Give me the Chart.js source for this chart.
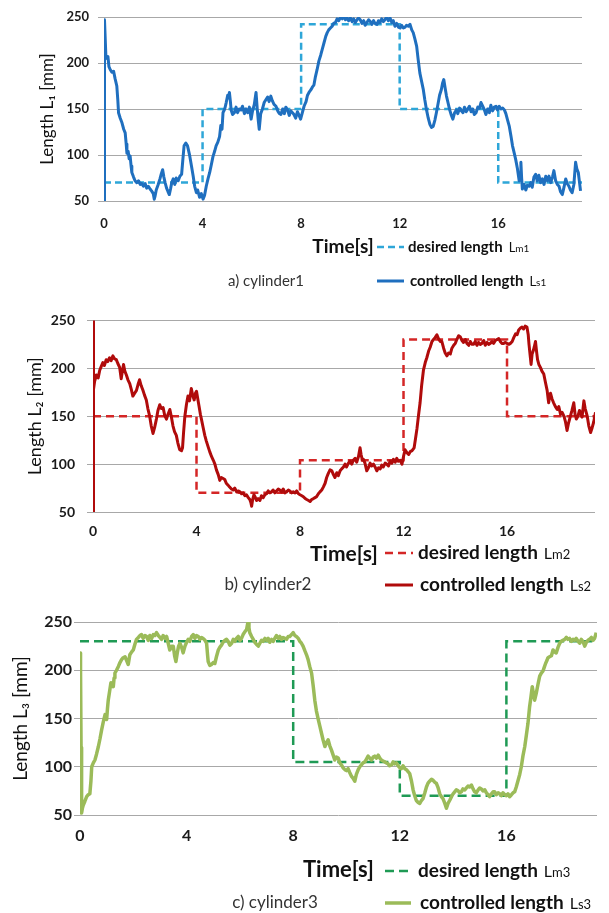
<!DOCTYPE html>
<html><head><meta charset="utf-8">
<script src="https://cdn.jsdelivr.net/npm/chart.js"></script>
<style>
html,body{margin:0;padding:0;background:#fff;}
body{width:609px;height:913px;position:relative;overflow:hidden;}
canvas{position:absolute;left:0;}
</style></head><body>
<canvas id="ca" width="609" height="300" style="top:0px"></canvas>
<canvas id="cb" width="609" height="300" style="top:300px"></canvas>
<canvas id="cc" width="609" height="313" style="top:600px"></canvas>
<script>
// ---- data ----
const xTicks = [0, 4, 8, 12, 16];
const yTicks = [50, 100, 150, 200, 250];
const stepTimes = [0, 4, 8, 12, 16, 19.4];
const desiredA = [70, 150, 242, 150, 70, 70];
const desiredB = [150, 70, 104, 230, 150, 150];
const desiredC = [230, 230, 105, 70, 230, 230];
const legendTexts = ['desired length', 'controlled length'];
const captions = ['a) cylinder1', 'b) cylinder2', 'c) cylinder3'];
const yTitles = ['Length L\u2081 [mm]', 'Length L\u2082 [mm]', 'Length L\u2083 [mm]'];
const desiredSyms = [['L','m1'], ['L','m2'], ['L','m3']];
const ctrlSyms = [['L','s1'], ['L','s2'], ['L','s3']];

const ctrlA = [[0,50],[0.02,247],[0.08,205],[0.16,207],[0.2,196],[0.25,193],[0.32,190],[0.39,191],[0.45,183],[0.52,175],[0.56,160],[0.59,146],[0.66,140],[0.73,135],[0.8,128],[0.86,124],[0.9,112],[0.93,102],[0.98,104],[1.02,96],[1.06,99],[1.1,88],[1.13,81],[1.2,76],[1.26,72],[1.33,70],[1.4,72],[1.47,68],[1.53,69],[1.6,66],[1.67,69],[1.73,64],[1.8,66],[1.87,63],[1.93,61],[2.0,58],[2.04,52],[2.07,55],[2.12,62],[2.2,68],[2.27,74],[2.33,80],[2.38,84],[2.43,76],[2.48,70],[2.54,64],[2.6,60],[2.65,57],[2.7,63],[2.75,70],[2.81,74],[2.87,68],[2.93,75],[3.01,72],[3.08,77],[3.15,79],[3.2,95],[3.25,110],[3.32,113],[3.39,110],[3.44,104],[3.48,99],[3.55,88],[3.62,77],[3.68,66],[3.75,59],[3.8,62],[3.88,54],[3.95,58],[4.02,52],[4.08,56],[4.15,66],[4.22,74],[4.29,81],[4.36,90],[4.42,98],[4.49,104],[4.55,110],[4.62,114],[4.69,120],[4.74,132],[4.79,128],[4.83,146],[4.9,150],[4.96,157],[5.02,165],[5.06,162],[5.09,168],[5.13,158],[5.16,149],[5.22,144],[5.29,146],[5.36,152],[5.42,146],[5.49,150],[5.56,149],[5.62,153],[5.7,145],[5.76,150],[5.83,146],[5.9,152],[5.97,139],[6.03,148],[6.1,155],[6.17,168],[6.22,150],[6.26,138],[6.3,128],[6.36,145],[6.43,150],[6.5,157],[6.57,160],[6.64,163],[6.7,158],[6.77,164],[6.83,159],[6.9,155],[6.98,153],[7.05,148],[7.12,145],[7.18,144],[7.25,150],[7.32,145],[7.38,152],[7.45,149],[7.52,143],[7.58,148],[7.65,146],[7.71,144],[7.78,140],[7.85,147],[7.92,143],[7.98,139],[8.05,146],[8.12,153],[8.2,158],[8.26,165],[8.32,168],[8.4,171],[8.46,174],[8.52,176],[8.58,185],[8.65,193],[8.72,202],[8.8,209],[8.86,215],[8.93,222],[9.0,229],[9.06,233],[9.12,236],[9.19,238],[9.26,240],[9.32,243],[9.39,244],[9.46,248],[9.53,246],[9.6,250],[9.67,248],[9.74,250],[9.8,247],[9.87,249],[9.93,246],[10.0,249],[10.07,245],[10.13,248],[10.2,244],[10.27,247],[10.33,249],[10.4,247],[10.47,243],[10.54,246],[10.6,241],[10.67,244],[10.74,247],[10.81,245],[10.87,242],[10.94,246],[11.0,243],[11.08,242],[11.14,246],[11.2,244],[11.27,248],[11.34,245],[11.4,247],[11.47,250],[11.54,246],[11.61,249],[11.68,244],[11.74,246],[11.81,240],[11.88,243],[11.95,239],[12.02,238],[12.08,241],[12.15,238],[12.22,239],[12.28,241],[12.35,240],[12.42,242],[12.49,236],[12.55,233],[12.62,226],[12.69,218],[12.75,204],[12.82,189],[12.89,180],[12.96,171],[13.02,160],[13.09,149],[13.16,140],[13.23,133],[13.29,130],[13.36,131],[13.43,138],[13.49,146],[13.56,156],[13.62,165],[13.69,171],[13.74,178],[13.79,182],[13.85,172],[13.9,164],[13.97,156],[14.03,149],[14.1,143],[14.16,139],[14.23,146],[14.3,149],[14.36,145],[14.43,151],[14.5,148],[14.57,146],[14.63,152],[14.7,147],[14.77,150],[14.83,153],[14.9,147],[14.97,150],[15.03,144],[15.1,146],[15.17,152],[15.24,151],[15.3,157],[15.37,153],[15.44,149],[15.5,144],[15.57,150],[15.64,146],[15.7,154],[15.77,148],[15.84,152],[15.91,153],[15.97,149],[16.04,153],[16.11,150],[16.18,151],[16.25,149],[16.31,145],[16.38,138],[16.45,131],[16.52,120],[16.58,110],[16.65,102],[16.71,95],[16.78,85],[16.85,72],[16.9,80],[16.92,92],[16.95,75],[16.98,63],[17.05,68],[17.12,62],[17.18,67],[17.25,66],[17.32,70],[17.38,65],[17.45,76],[17.52,79],[17.58,72],[17.65,78],[17.72,70],[17.79,74],[17.86,68],[17.93,77],[18.0,72],[18.06,77],[18.13,70],[18.2,76],[18.26,83],[18.33,72],[18.4,68],[18.47,66],[18.53,60],[18.6,57],[18.67,65],[18.74,74],[18.8,69],[18.87,66],[18.93,62],[19.0,59],[19.07,68],[19.14,92],[19.19,85],[19.25,81],[19.3,70],[19.34,61]];

const ctrlB = [[0,50],[0.01,250],[0.03,178],[0.06,186],[0.13,193],[0.2,190],[0.26,198],[0.32,202],[0.38,206],[0.44,203],[0.51,209],[0.57,207],[0.64,211],[0.7,208],[0.77,213],[0.83,210],[0.9,209],[0.96,205],[1.03,201],[1.09,189],[1.14,198],[1.18,204],[1.23,197],[1.29,193],[1.35,188],[1.42,184],[1.48,178],[1.54,171],[1.61,174],[1.68,177],[1.74,183],[1.8,188],[1.86,182],[1.93,177],[1.99,172],[2.06,167],[2.12,158],[2.19,150],[2.25,140],[2.32,132],[2.38,138],[2.45,147],[2.51,156],[2.58,162],[2.64,158],[2.71,159],[2.77,151],[2.84,147],[2.9,152],[2.97,157],[3.03,149],[3.09,140],[3.15,134],[3.22,130],[3.28,122],[3.35,115],[3.42,114],[3.46,117],[3.5,133],[3.55,150],[3.61,162],[3.67,171],[3.73,166],[3.8,179],[3.85,172],[3.91,167],[3.96,174],[4.0,176],[4.05,168],[4.1,160],[4.15,152],[4.19,147],[4.25,139],[4.32,130],[4.38,124],[4.45,118],[4.51,113],[4.58,108],[4.65,104],[4.71,100],[4.77,94],[4.84,89],[4.9,83],[4.96,86],[5.03,85],[5.09,84],[5.15,80],[5.22,78],[5.28,76],[5.35,74],[5.42,73],[5.48,75],[5.55,71],[5.61,72],[5.68,71],[5.74,69],[5.8,70],[5.87,67],[5.93,68],[6.0,65],[6.06,63],[6.1,60],[6.13,56],[6.17,63],[6.22,68],[6.26,66],[6.32,62],[6.38,64],[6.45,62],[6.51,67],[6.58,65],[6.64,68],[6.71,69],[6.77,72],[6.84,70],[6.9,71],[6.96,73],[7.03,70],[7.09,72],[7.16,74],[7.22,73],[7.29,71],[7.35,74],[7.42,70],[7.48,71],[7.55,73],[7.61,72],[7.68,70],[7.74,71],[7.81,70],[7.87,72],[7.94,69],[8.0,68],[8.07,67],[8.13,66],[8.2,64],[8.26,63],[8.33,62],[8.39,61],[8.45,63],[8.52,64],[8.58,65],[8.64,66],[8.71,69],[8.77,71],[8.84,73],[8.9,76],[8.97,80],[9.03,86],[9.09,90],[9.16,94],[9.23,93],[9.29,89],[9.35,86],[9.42,91],[9.48,88],[9.55,93],[9.61,95],[9.68,97],[9.74,100],[9.8,97],[9.87,101],[9.93,103],[10.0,100],[10.06,104],[10.13,106],[10.19,102],[10.26,108],[10.32,117],[10.36,110],[10.41,104],[10.45,105],[10.51,101],[10.58,93],[10.64,96],[10.71,101],[10.77,98],[10.84,100],[10.9,97],[10.97,93],[11.03,96],[11.1,95],[11.16,99],[11.22,97],[11.29,101],[11.35,100],[11.42,98],[11.48,103],[11.55,101],[11.61,105],[11.68,102],[11.74,106],[11.8,103],[11.87,104],[11.94,100],[12.0,108],[12.06,115],[12.13,112],[12.2,110],[12.26,113],[12.33,114],[12.41,117],[12.46,126],[12.52,137],[12.58,151],[12.64,164],[12.7,182],[12.77,198],[12.84,206],[12.9,211],[12.97,218],[13.03,222],[13.1,228],[13.16,230],[13.22,232],[13.29,235],[13.35,231],[13.42,228],[13.48,228],[13.55,221],[13.61,216],[13.68,213],[13.74,216],[13.81,215],[13.87,221],[13.94,224],[14.0,226],[14.06,230],[14.13,234],[14.19,233],[14.26,229],[14.32,227],[14.39,230],[14.45,226],[14.52,224],[14.58,228],[14.65,225],[14.71,225],[14.77,228],[14.84,224],[14.9,227],[14.97,225],[15.03,226],[15.1,229],[15.16,224],[15.23,227],[15.29,225],[15.35,226],[15.42,228],[15.48,226],[15.55,229],[15.61,230],[15.68,231],[15.74,228],[15.8,226],[15.87,226],[15.94,227],[16.0,226],[16.07,225],[16.13,226],[16.2,228],[16.26,232],[16.33,236],[16.39,235],[16.45,240],[16.52,242],[16.58,243],[16.64,241],[16.7,244],[16.77,243],[16.82,235],[16.85,225],[16.9,212],[16.93,204],[16.97,215],[17.01,218],[17.05,222],[17.1,228],[17.14,218],[17.18,209],[17.23,204],[17.29,201],[17.35,197],[17.42,194],[17.48,186],[17.55,177],[17.59,168],[17.61,164],[17.65,172],[17.68,174],[17.74,168],[17.8,164],[17.87,160],[17.94,157],[18.0,160],[18.07,152],[18.13,154],[18.2,150],[18.26,144],[18.32,135],[18.37,142],[18.45,150],[18.51,156],[18.58,164],[18.63,152],[18.68,147],[18.74,150],[18.8,156],[18.84,154],[18.9,149],[18.97,166],[19.02,158],[19.1,150],[19.16,140],[19.23,133],[19.29,138],[19.35,144],[19.42,154]];

const ctrlC = [[0,218],[0.02,200],[0.04,120],[0.06,52],[0.09,57],[0.12,60],[0.18,64],[0.25,69],[0.31,71],[0.37,72],[0.41,85],[0.44,100],[0.5,104],[0.56,107],[0.62,113],[0.69,121],[0.75,129],[0.81,138],[0.87,146],[0.94,154],[1.0,149],[1.03,160],[1.06,169],[1.11,178],[1.16,187],[1.2,185],[1.25,183],[1.28,192],[1.31,197],[1.37,200],[1.44,204],[1.5,208],[1.56,211],[1.62,213],[1.69,214],[1.75,210],[1.81,206],[1.87,216],[1.94,219],[2.0,221],[2.06,227],[2.12,232],[2.19,234],[2.25,236],[2.31,237],[2.37,233],[2.44,236],[2.5,235],[2.56,231],[2.62,236],[2.69,233],[2.75,237],[2.81,236],[2.87,239],[2.94,236],[3.0,234],[3.06,232],[3.12,236],[3.19,233],[3.25,235],[3.31,228],[3.37,221],[3.44,225],[3.5,225],[3.55,215],[3.6,209],[3.65,218],[3.7,225],[3.75,228],[3.81,224],[3.87,218],[3.94,225],[4.0,229],[4.06,232],[4.12,230],[4.19,235],[4.25,237],[4.31,233],[4.37,236],[4.44,235],[4.5,232],[4.56,234],[4.62,233],[4.69,231],[4.75,228],[4.79,215],[4.81,209],[4.87,205],[4.94,206],[5.0,208],[5.06,207],[5.12,214],[5.19,221],[5.25,224],[5.31,226],[5.37,229],[5.44,231],[5.5,232],[5.56,230],[5.62,226],[5.69,228],[5.75,232],[5.81,230],[5.87,233],[5.94,235],[6.0,231],[6.06,233],[6.12,237],[6.19,240],[6.25,242],[6.29,248],[6.31,250],[6.34,244],[6.37,239],[6.44,235],[6.5,232],[6.56,229],[6.62,227],[6.69,225],[6.75,228],[6.81,231],[6.87,230],[6.94,233],[7.0,231],[7.06,233],[7.12,229],[7.19,232],[7.25,230],[7.31,233],[7.37,236],[7.44,233],[7.5,235],[7.56,232],[7.62,234],[7.69,233],[7.75,232],[7.81,235],[7.87,235],[7.94,237],[8.0,239],[8.06,236],[8.12,235],[8.19,233],[8.25,230],[8.31,228],[8.37,225],[8.44,220],[8.5,216],[8.56,211],[8.62,204],[8.69,197],[8.75,184],[8.81,169],[8.87,158],[8.94,149],[9.0,142],[9.06,135],[9.12,128],[9.19,121],[9.25,125],[9.31,128],[9.37,122],[9.44,117],[9.5,112],[9.56,107],[9.62,110],[9.69,109],[9.75,104],[9.81,102],[9.87,99],[9.94,97],[10.0,96],[10.06,98],[10.12,94],[10.19,90],[10.25,88],[10.31,85],[10.37,92],[10.44,97],[10.5,100],[10.56,102],[10.62,104],[10.69,105],[10.75,108],[10.81,111],[10.87,109],[10.94,107],[11.0,110],[11.06,111],[11.12,109],[11.19,112],[11.25,109],[11.31,107],[11.37,106],[11.44,105],[11.5,104],[11.56,103],[11.62,101],[11.69,102],[11.75,105],[11.81,103],[11.87,104],[11.94,101],[12.0,99],[12.06,98],[12.12,101],[12.19,98],[12.25,97],[12.31,95],[12.37,93],[12.44,85],[12.5,76],[12.56,70],[12.62,65],[12.69,63],[12.75,62],[12.81,65],[12.87,67],[12.94,73],[13.0,79],[13.06,83],[13.12,85],[13.19,87],[13.25,86],[13.31,84],[13.37,83],[13.44,78],[13.5,72],[13.56,69],[13.62,67],[13.69,62],[13.75,57],[13.81,62],[13.87,65],[13.94,69],[14.0,72],[14.06,74],[14.12,76],[14.19,75],[14.25,73],[14.31,74],[14.37,77],[14.44,76],[14.5,78],[14.56,80],[14.62,79],[14.69,81],[14.75,77],[14.81,74],[14.87,73],[14.94,76],[15.0,78],[15.06,77],[15.12,75],[15.19,76],[15.25,73],[15.31,71],[15.37,69],[15.44,72],[15.5,74],[15.56,74],[15.62,71],[15.69,73],[15.75,72],[15.81,70],[15.87,73],[15.94,71],[16.0,70],[16.06,72],[16.12,69],[16.19,71],[16.25,73],[16.31,74],[16.37,79],[16.43,85],[16.5,92],[16.56,100],[16.62,111],[16.69,121],[16.75,133],[16.81,145],[16.87,162],[16.92,172],[16.97,183],[17.02,175],[17.06,169],[17.12,176],[17.19,186],[17.25,194],[17.31,197],[17.37,199],[17.42,203],[17.47,207],[17.52,210],[17.56,213],[17.62,214],[17.69,215],[17.75,221],[17.81,219],[17.87,218],[17.94,224],[18.0,228],[18.06,230],[18.12,231],[18.19,232],[18.25,234],[18.31,232],[18.37,233],[18.44,230],[18.5,232],[18.56,231],[18.62,233],[18.69,230],[18.75,228],[18.81,232],[18.87,230],[18.94,225],[19.0,229],[19.06,231],[19.12,232],[19.19,234],[19.25,231],[19.31,233],[19.37,239]];

// ---- drawing ----
const FONT = 'Lato, "Open Sans", sans-serif';
Chart.defaults.font.family = FONT;

function makePanel(id, ctrl, des, idx, g) {
  const textPlugin = {
    id: 'panelText' + idx,
    afterDraw(chart) {
      const c = chart.ctx;
      c.save();
      c.textBaseline = 'middle';
      c.textAlign = 'left';
      // row 1: desired
      c.strokeStyle = g.desColor; c.lineWidth = g.desWidth; c.setLineDash(g.dash);
      c.beginPath(); c.moveTo(g.lx1, g.r1); c.lineTo(g.lx2, g.r1); c.stroke();
      c.setLineDash([]);
      c.fillStyle = '#111';
      c.font = 'bold ' + g.legFs + 'px ' + FONT;
      c.fillText(legendTexts[0], g.tx, g.r1);
      let w = c.measureText(legendTexts[0]).width;
      c.font = g.symFs + 'px ' + FONT;
      c.fillText(desiredSyms[idx][0], g.tx + w + g.symGap, g.r1 + 1);
      let w2 = c.measureText(desiredSyms[idx][0]).width;
      c.font = (g.symFs - 3) + 'px ' + FONT;
      c.fillText(desiredSyms[idx][1], g.tx + w + g.symGap + w2, g.r1 + 2);
      // row 2: controlled
      c.strokeStyle = g.ctrlColor; c.lineWidth = g.ctrlWidth;
      c.beginPath(); c.moveTo(g.lx1, g.r2); c.lineTo(g.lx2, g.r2); c.stroke();
      c.font = 'bold ' + g.legFs + 'px ' + FONT;
      c.fillText(legendTexts[1], g.tx + 2, g.r2);
      w = c.measureText(legendTexts[1]).width;
      c.font = g.symFs + 'px ' + FONT;
      c.fillText(ctrlSyms[idx][0], g.tx + 2 + w + g.symGap, g.r2 + 1);
      w2 = c.measureText(ctrlSyms[idx][0]).width;
      c.font = (g.symFs - 3) + 'px ' + FONT;
      c.fillText(ctrlSyms[idx][1], g.tx + 2 + w + g.symGap + w2, g.r2 + 2);
      // caption
      c.textAlign = 'center';
      c.fillStyle = '#333';
      c.font = g.capFs + 'px ' + FONT;
      c.fillText(captions[idx], g.capX, g.r2);
      c.restore();
    }
  };
  return new Chart(document.getElementById(id), {
    type: 'line',
    data: {
      datasets: [
        { label: 'controlled length', data: ctrl.map(p => ({x: p[0], y: p[1]})),
          borderColor: g.ctrlColor, borderWidth: g.ctrlWidth, pointRadius: 0, tension: 0, fill: false,
          borderJoinStyle: 'round' },
        { label: 'desired length', data: stepTimes.map((t, i) => ({x: t, y: des[i]})),
          borderColor: g.desColor, borderWidth: g.desWidth, borderDash: g.dash, stepped: 'before',
          pointRadius: 0, fill: false }
      ]
    },
    options: {
      responsive: false, animation: false, devicePixelRatio: 1,
      layout: { padding: { left: 0, right: g.padR, top: g.padT, bottom: g.padB } },
      plugins: { legend: { display: false }, tooltip: { enabled: false } },
      scales: {
        x: {
          type: 'linear', min: 0, max: 19.4,
          afterBuildTicks: s => { s.ticks = xTicks.map(v => ({ value: v })); },
          afterFit: s => { s.height = g.xH; },
          grid: { display: false, drawTicks: false },
          border: { display: false },
          ticks: { padding: g.xTickPad, color: '#1a1a1a', maxRotation: 0, autoSkip: false,
                   font: { size: g.tickFs, weight: 'bold' } },
          title: { display: true, text: 'Time[s]', color: '#111',
                   font: { size: g.xTitleFs, weight: 'bold' }, padding: { top: 0, bottom: 0 } }
        },
        y: {
          min: 50, max: 250,
          afterBuildTicks: s => { s.ticks = yTicks.map(v => ({ value: v })); },
          afterFit: s => { s.width = g.yW; },
          grid: { color: '#a8a8a8', lineWidth: 1, drawTicks: true, tickLength: 6 },
          border: { display: false },
          ticks: { padding: g.yTickPad, color: '#1a1a1a', font: { size: g.tickFs, weight: 'bold' } },
          title: { display: true, text: yTitles[idx], color: '#111',
                   font: { size: g.yTitleFs }, padding: { top: g.yTitlePad, bottom: 0 } }
        }
      }
    },
    plugins: [textPlugin]
  });
}

makePanel('ca', ctrlA, desiredA, 0, {
  ctrlColor: '#1f6fbf', desColor: '#2ea6d8', ctrlWidth: 3, desWidth: 2.5, dash: [7, 4],
  padR: 27, padT: 17, padB: 42, xH: 57, yW: 104, xTickPad: 15, yTickPad: 9,
  tickFs: 13, xTitleFs: 19, yTitleFs: 17, yTitlePad: 37,
  lx1: 377, lx2: 404, tx: 408, r1: 247, r2: 281, legFs: 15, symFs: 13, symGap: 6, capFs: 15, capX: 266
});
makePanel('cb', ctrlB, desiredB, 1, {
  ctrlColor: '#b00b0b', desColor: '#d42626', ctrlWidth: 3, desWidth: 2.5, dash: [8, 5],
  padR: 14, padT: 15, padB: 33, xH: 55, yW: 93, xTickPad: 11, yTickPad: 12,
  tickFs: 14, xTitleFs: 21, yTitleFs: 18, yTitlePad: 24,
  lx1: 385, lx2: 413, tx: 418, r1: 253, r2: 285, legFs: 19, symFs: 16, symGap: 6, capFs: 17, capX: 268
});
makePanel('cc', ctrlC, desiredC, 2, {
  ctrlColor: '#9bbb59', desColor: '#1f9a55', ctrlWidth: 3.5, desWidth: 2.5, dash: [9, 5],
  padR: 12, padT: 22, padB: 30, xH: 68, yW: 80, xTickPad: 11, yTickPad: 2,
  tickFs: 16, xTitleFs: 22, yTitleFs: 19, yTitlePad: 9,
  lx1: 385, lx2: 411, tx: 418, r1: 271, r2: 303, legFs: 19, symFs: 16, symGap: 6, capFs: 17, capX: 275
});
</script>
</body></html>
